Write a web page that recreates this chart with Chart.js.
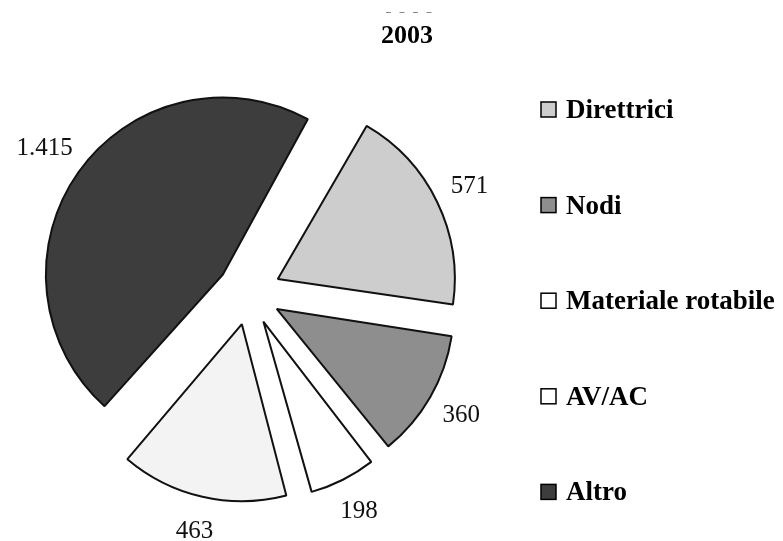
<!DOCTYPE html>
<html>
<head>
<meta charset="utf-8">
<title>2003</title>
<script src="https://cdn.jsdelivr.net/npm/chart.js@4.4.1/dist/chart.umd.min.js"></script>
<style>
  html, body { margin: 0; padding: 0; background: #fff; }
  #grafico { display: block; }
</style>
</head>
<body>
<canvas id="grafico" width="783" height="541"></canvas>
<script>
// Investimenti 2003 per voce
const titolo = '2003';
const voci = ['Direttrici', 'Nodi', 'Materiale rotabile', 'AV/AC', 'Altro'];
const valori = [571, 360, 198, 463, 1415];
const colori = ['#cdcdcd', '#8e8e8e', '#ffffff', '#f3f3f3', '#3d3d3d'];
const coloriLegenda = ['#cdcdcd', '#8e8e8e', '#ffffff', '#ffffff', '#3d3d3d'];

const RAGGIO = 177;
const ESPLOSO = 128; // chart.js sposta la fetta di offset/4 -> 32px

function formatta(v) {
    // separatore delle migliaia all'italiana
    return String(v).replace(/\B(?=(\d{3})+(?!\d))/g, '.');
}

// chart.js allarga il raggio delle fette piccole quando c'e' offset,
// qui lo riporto uguale per tutte
const fetteEsplose = {
    id: 'fetteEsplose',
    beforeDatasetsDraw(chart) {
        const meta = chart.getDatasetMeta(0);
        const base = meta.controller.outerRadius;
        meta.data.forEach(arc => {
            const spost = (arc.options.offset || 0) / 4;
            const fix = 1 - Math.sin(Math.min(Math.PI, arc.circumference));
            arc.outerRadius = base - spost * fix;
        });
    }
};

// valori fuori dalle fette
const etichette = {
    id: 'etichette',
    afterDatasetsDraw(chart) {
        const { ctx } = chart;
        const meta = chart.getDatasetMeta(0);
        const r = meta.controller.outerRadius;
        ctx.save();
        ctx.font = '25px "Liberation Serif", "Times New Roman", serif';
        ctx.fillStyle = '#111';
        ctx.textAlign = 'center';
        ctx.textBaseline = 'middle';
        meta.data.forEach((arc, i) => {
            const testo = formatta(valori[i]);
            const w = ctx.measureText(testo).width;
            const mid = (arc.startAngle + arc.endAngle) / 2;
            const d = r + (arc.options.offset || 0) / 4 + 36 + (w - 38) * 0.3;
            ctx.fillText(testo, arc.x + Math.cos(mid) * d, arc.y + Math.sin(mid) * d);
        });
        ctx.restore();
    }
};

// titolo e legenda a destra
const legendaTitolo = {
    id: 'legendaTitolo',
    afterDraw(chart) {
        const { ctx } = chart;
        ctx.save();
        // resto di una riga tagliata sopra il titolo
        ctx.strokeStyle = '#888';
        ctx.lineWidth = 1;
        ctx.setLineDash([5, 8.5]);
        ctx.beginPath();
        ctx.moveTo(386, 12.5);
        ctx.lineTo(432, 12.5);
        ctx.stroke();
        ctx.setLineDash([]);

        ctx.fillStyle = '#000';
        ctx.textBaseline = 'alphabetic';
        ctx.textAlign = 'center';
        ctx.font = 'bold 26px "Liberation Serif", "Times New Roman", serif';
        ctx.fillText(titolo, 407, 43);

        ctx.textAlign = 'left';
        ctx.font = 'bold 27px "Liberation Serif", "Times New Roman", serif';
        voci.forEach((voce, i) => {
            const y = 118 + i * 95.6;
            ctx.fillStyle = coloriLegenda[i];
            ctx.fillRect(541, y - 16, 15, 15);
            ctx.strokeStyle = '#000';
            ctx.lineWidth = 1.5;
            ctx.strokeRect(541, y - 16, 15, 15);
            ctx.fillStyle = '#000';
            ctx.fillText(voce, 566, y);
        });
        ctx.restore();
    }
};

const ctx = document.getElementById('grafico').getContext('2d');
const grafico = new Chart(ctx, {
    type: 'pie',
    data: {
        labels: voci,
        datasets: [{
            data: valori,
            backgroundColor: colori,
            borderColor: '#111',
            borderWidth: 2,
            offset: ESPLOSO,
            radius: RAGGIO,
            rotation: 30
        }]
    },
    options: {
        responsive: false,
        devicePixelRatio: 1,
        animation: false,
        layout: {
            padding: { left: 0, right: 285, top: 45, bottom: 0 }
        },
        plugins: {
            legend: { display: false },
            title: { display: false },
            tooltip: { enabled: false }
        }
    },
    plugins: [fetteEsplose, etichette, legendaTitolo]
});
</script>
</body>
</html>
